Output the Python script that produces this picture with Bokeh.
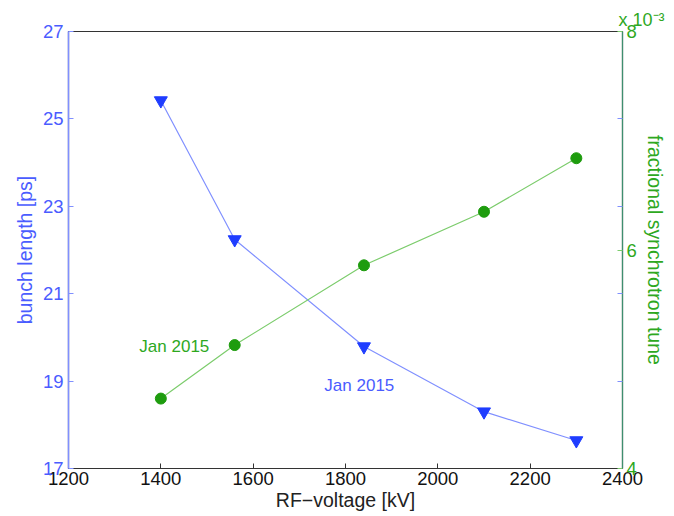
from bokeh.plotting import figure
from bokeh.models import Range1d, LinearAxis, FixedTicker, Label
from bokeh.embed import file_html
from bokeh.resources import INLINE

# ---- data ----
rf_voltage = [1400, 1560, 1840, 2100, 2300]               # kV
bunch_length = [25.42, 22.24, 19.79, 18.30, 17.64]         # ps
sync_tune_e3 = [4.64, 5.13, 5.86, 6.35, 6.84]              # x 10^-3

x_ticks = [1200, 1400, 1600, 1800, 2000, 2200, 2400]
left_ticks = [17, 19, 21, 23, 25, 27]
right_ticks = [4, 6, 8]

green_note = ("Jan 2015", 1505, 5.12)   # text, x (kV), tune
blue_note = ("Jan 2015", 1830, 18.9)    # text, x (kV), bunch length
exponent_text = "x 10\u207b\u00b3"

FONT = "Liberation Sans"
TICK_FS = "18.5px"
LABEL_FS = "19.5px"
BLUE_TXT = "#4a5cff"
BLUE_LINE = "#8090ff"
BLUE_MK = "#1f3dff"
GREEN_TXT = "#2ea81e"
GREEN_LINE = "#7ccc6c"
GREEN_MK = "#1e9c0e"
DARK = "#333333"

p = figure(width=674, height=516, output_backend="svg", toolbar_location=None,
           x_range=Range1d(1200, 2400), y_range=Range1d(17, 27),
           min_border_left=68, min_border_right=52, min_border_top=31, min_border_bottom=48,
           y_axis_location=None, x_axis_location=None)
p.extra_y_ranges = {"tune": Range1d(4, 8)}
p.xgrid.visible = False
p.ygrid.visible = False
p.outline_line_color = DARK
p.outline_line_width = 1.2
p.background_fill_color = "white"
p.border_fill_color = "white"

# exponent marker above the right axis, as the title
p.title.text = exponent_text
p.title.align = "left"
p.title.offset = 550
p.title.text_font = FONT
p.title.text_font_size = "18px"
p.title.text_font_style = "normal"
p.title.text_color = GREEN_TXT
p.title.standoff = 3

# bottom axis
xa = LinearAxis(ticker=FixedTicker(ticks=x_ticks), axis_label="RF\u2212voltage [kV]")
xa.major_tick_in = 5
xa.major_tick_out = 0
xa.minor_tick_line_color = None
xa.axis_line_color = DARK
xa.major_tick_line_color = DARK
xa.major_label_text_font = FONT
xa.major_label_text_font_size = TICK_FS
xa.major_label_text_color = "#111111"
xa.major_label_standoff = 3
xa.axis_label_text_font = FONT
xa.axis_label_text_font_size = LABEL_FS
xa.axis_label_text_font_style = "normal"
xa.axis_label_text_color = "#222222"
xa.axis_label_standoff = 1
p.add_layout(xa, "below")

# left axis
ya = LinearAxis(ticker=FixedTicker(ticks=left_ticks), axis_label="bunch length [ps]")
ya.major_tick_in = 5
ya.major_tick_out = 0
ya.minor_tick_line_color = None
ya.axis_line_color = BLUE_LINE
ya.axis_line_width = 1.5
ya.major_tick_line_color = BLUE_LINE
ya.major_label_text_font = FONT
ya.major_label_text_font_size = TICK_FS
ya.major_label_text_color = BLUE_TXT
ya.major_label_standoff = 5
ya.axis_label_text_font = FONT
ya.axis_label_text_font_size = LABEL_FS
ya.axis_label_text_font_style = "normal"
ya.axis_label_text_color = BLUE_TXT
ya.axis_label_standoff = 4
p.add_layout(ya, "left")

# right axis (tune), with left-axis ticks mirrored as blue minor ticks
lo, hi = left_ticks[0], left_ticks[-1]
r_lo, r_hi = right_ticks[0], right_ticks[-1]
mirrored = [r_lo + (v - lo) * (r_hi - r_lo) / (hi - lo) for v in left_ticks[1:-1]]
ra = LinearAxis(y_range_name="tune", ticker=FixedTicker(ticks=right_ticks, minor_ticks=mirrored),
                axis_label="fractional synchrotron tune")
ra.major_tick_in = 5
ra.major_tick_out = 0
ra.minor_tick_in = 5
ra.minor_tick_out = 0
ra.minor_tick_line_color = BLUE_LINE
ra.major_tick_line_color = GREEN_LINE
ra.axis_line_color = "#3f8f6f"
ra.axis_line_width = 1.2
ra.major_label_text_font = FONT
ra.major_label_text_font_size = TICK_FS
ra.major_label_text_color = GREEN_TXT
ra.major_label_standoff = 4
ra.axis_label_text_font = FONT
ra.axis_label_text_font_size = LABEL_FS
ra.axis_label_text_font_style = "normal"
ra.axis_label_text_color = GREEN_TXT
ra.axis_label_standoff = 4
p.add_layout(ra, "right")

# series
p.line(rf_voltage, bunch_length, line_color=BLUE_LINE, line_width=1.2)
p.scatter(rf_voltage, bunch_length, marker="inverted_triangle", size=13,
          fill_color=BLUE_MK, line_color=BLUE_MK)
p.line(rf_voltage, sync_tune_e3, line_color=GREEN_LINE, line_width=1.2, y_range_name="tune")
p.scatter(rf_voltage, sync_tune_e3, marker="circle", size=11,
          fill_color=GREEN_MK, line_color=GREEN_MK, y_range_name="tune")

# annotations
p.add_layout(Label(x=green_note[1], y=green_note[2], y_range_name="tune", text=green_note[0],
                   text_font=FONT, text_font_size="17px", text_color=GREEN_TXT,
                   text_align="right", text_baseline="middle"))
p.add_layout(Label(x=blue_note[1], y=blue_note[2], text=blue_note[0],
                   text_font=FONT, text_font_size="17px", text_color=BLUE_TXT,
                   text_align="center", text_baseline="middle"))

open("out.html", "w").write(file_html(p, INLINE))
